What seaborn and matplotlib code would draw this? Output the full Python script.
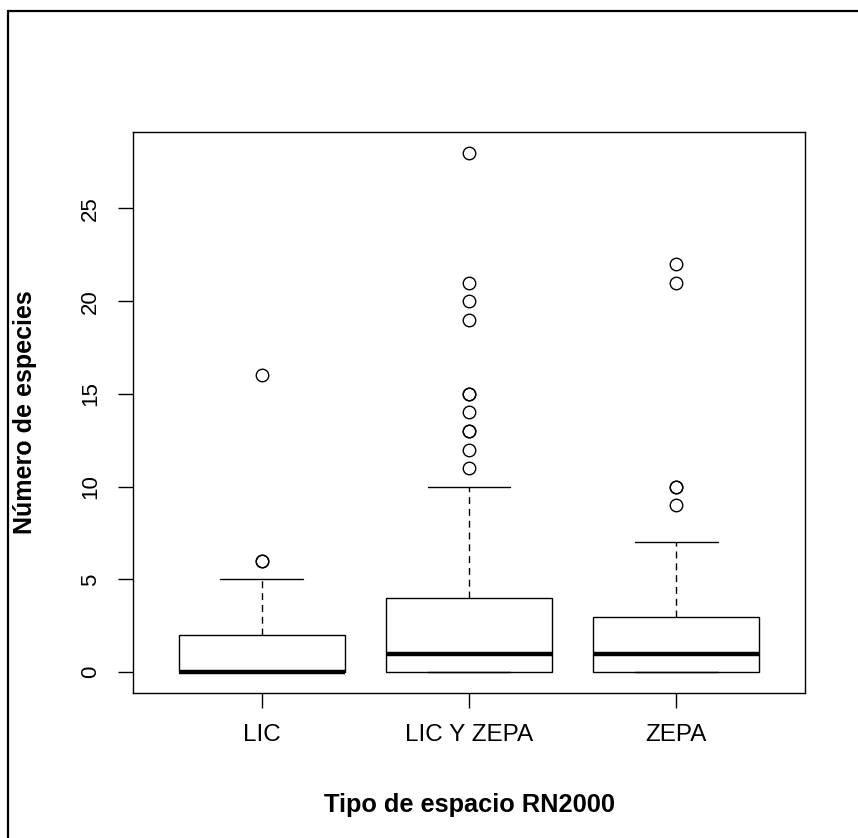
import numpy as np
import pandas as pd
import seaborn as sns
import matplotlib.pyplot as plt
from matplotlib.lines import Line2D


################################################################################


X_LABEL = "Tipo de espacio RN2000"
Y_LABEL = "Número de especies"

categories = ["LIC", "LIC Y ZEPA", "ZEPA"]

# species count per site, written as value -> number of sites
lic_values = [0, 1, 2, 3, 4, 5, 6, 16]
lic_counts = [16, 3, 5, 2, 1, 1, 2, 1]

liczepa_values = [0, 1, 2, 3, 4, 5, 6, 7, 8, 9, 10, 11, 12, 13, 14, 15, 19, 20, 21, 28]
liczepa_counts = [40, 15, 10, 8, 8, 2, 2, 2, 1, 1, 1, 1, 1, 2, 1, 2, 1, 1, 1, 1]

zepa_values = [0, 1, 2, 3, 4, 5, 7, 9, 10, 21, 22]
zepa_counts = [15, 8, 5, 5, 1, 1, 1, 1, 2, 1, 1]

y_ticks = [0, 5, 10, 15, 20, 25]


def buildFrame():
  parts = []
  for cat, vals, cnts in zip(categories,
                             [lic_values, liczepa_values, zepa_values],
                             [lic_counts, liczepa_counts, zepa_counts]):
    parts.append(pd.DataFrame({"tipo": cat, "n": np.repeat(vals, cnts)}))
  return pd.concat(parts, ignore_index=True)


def plotBoxes(ax):
  df = buildFrame()
  sns.boxplot(data=df, x="tipo", y="n", order=categories, ax=ax,
              color="white", linecolor="black", linewidth=1.0, width=0.8,
              whis=1.5,
              medianprops=dict(color="black", linewidth=3.2),
              whiskerprops=dict(color="black", linewidth=1.0, linestyle=(0, (5, 3.5))),
              capprops=dict(color="black", linewidth=1.0),
              flierprops=dict(marker="o", markerfacecolor="none",
                              markeredgecolor="black", markersize=9,
                              markeredgewidth=1.0))
  ax.set_xlim(-0.62, 2.62)
  ax.set_ylim(-1.12, 29.12)
  ax.set_yticks(y_ticks)
  ax.set_yticklabels([str(t) for t in y_ticks], rotation=90, va="center")
  ax.set_xlabel(X_LABEL, fontsize=18.3, fontweight="bold", va="center", color="black")
  ax.set_ylabel(Y_LABEL, fontsize=18, fontweight="bold", va="center", color="black")
  ax.xaxis.set_label_coords(0.5, -0.1996)
  ax.yaxis.set_label_coords(-0.1607, 0.5)


def main():

    sns.set_style("ticks")
    plt.rcParams["font.family"] = ["Liberation Sans", "DejaVu Sans"]

    fig = plt.figure(figsize=(8.58, 8.38), dpi=100)
    ax = fig.add_axes([133 / 858, 1 - 693 / 838, 672 / 858, 561 / 838])

    plotBoxes(ax)

    for side in ["left", "right", "top", "bottom"]:
      ax.spines[side].set_visible(True)
      ax.spines[side].set_color("black")
      ax.spines[side].set_linewidth(1.0)
    ax.tick_params(axis="both", direction="out", length=10.8, width=1.0,
                   color="black", labelcolor="black")
    ax.tick_params(axis="y", pad=12, labelsize=16)
    ax.tick_params(axis="x", pad=11.5, labelsize=17.5)

    # outer frame (only top and left edges visible in the original)
    fig.add_artist(Line2D([8 / 858, 8 / 858], [0, 1 - 11 / 838],
                          transform=fig.transFigure, color="black", linewidth=1.6))
    fig.add_artist(Line2D([8 / 858, 1], [1 - 11 / 838, 1 - 11 / 838],
                          transform=fig.transFigure, color="black", linewidth=1.6))

    fig.savefig("out.png", dpi=100, facecolor="white")

main()
